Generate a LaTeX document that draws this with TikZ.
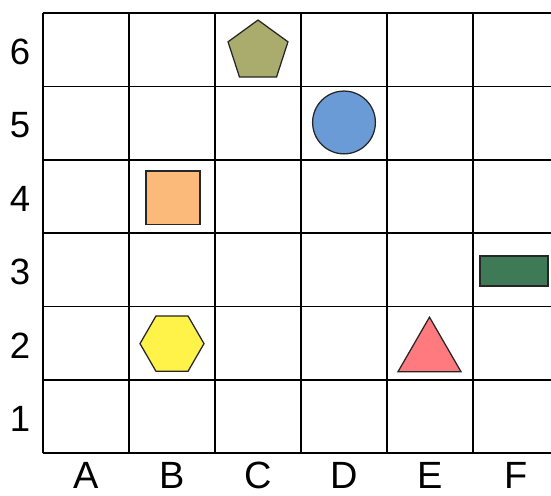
\documentclass[tikz,border=0pt]{standalone}
\usepackage{fontspec}
\setmainfont{Liberation Sans}
\usetikzlibrary{shapes.geometric}
\definecolor{olivefill}{RGB}{170,172,110}
\definecolor{bluefill}{RGB}{106,155,214}
\definecolor{orangefill}{RGB}{252,186,122}
\definecolor{greenfill}{RGB}{62,122,86}
\definecolor{yellowfill}{RGB}{255,242,72}
\definecolor{pinkfill}{RGB}{255,122,127}
\begin{document}
\begin{tikzpicture}[x=2.15cm, y=1.8333cm,
    figure/.style={draw=black!85, line width=0.9pt, inner sep=0pt},
    lbl/.style={font=\fontsize{26}{28}\selectfont, inner sep=1pt}]
  \useasboundingbox (-0.5,-0.573) rectangle (5.907,6.18);
  % mreza
  \foreach \y in {0,...,6}
    \draw[line width=1.2pt] (0,\y) -- (5.907,\y);
  \foreach \x in {0,...,5}
    \draw[line width=1.2pt] (\x,0) -- (\x,6);
  % oznake kolona i redova
  \foreach \x/\l in {0/A, 1/B, 2/C, 3/D, 4/E, 5/F}
    \node[lbl, font=\fontsize{27}{29}\selectfont] (col\l) at (\x+0.5,-0.31) {\l};
  \foreach \y in {1,...,6}
    \node[lbl] (row\y) at (-0.267,\y-0.53) {\y};
  % figure
  \node[figure, regular polygon, regular polygon sides=5, minimum size=1.575cm,
        fill=olivefill] (pentagon) at (2.5,5.477) {};
  \node[figure, circle, minimum size=1.57cm, fill=bluefill] (krug) at (3.5,4.51) {};
  \node[figure, rectangle, minimum width=1.35cm, minimum height=1.33cm,
        fill=orangefill] (kvadrat) at (1.512,3.486) {};
  \node[figure, rectangle, minimum width=1.7cm, minimum height=0.75cm,
        fill=greenfill] (pravougaonik) at (5.477,2.483) {};
  \node[figure, regular polygon, regular polygon sides=6, minimum size=1.6cm,
        fill=yellowfill] (sestougao) at (1.5,1.494) {};
  \node[figure, regular polygon, regular polygon sides=3, minimum size=1.82cm,
        fill=pinkfill] (trougao) at (4.494,1.359) {};
\end{tikzpicture}
\end{document}
